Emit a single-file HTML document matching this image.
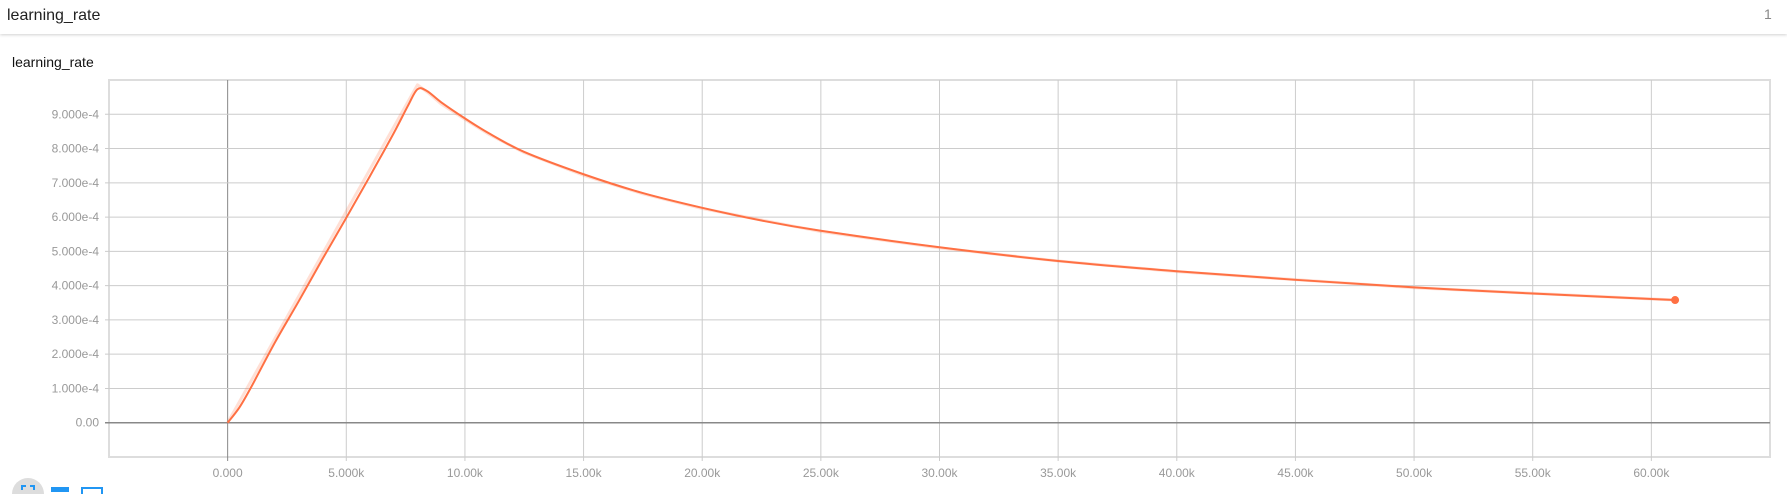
<!DOCTYPE html>
<html><head><meta charset="utf-8">
<style>
body{margin:0;width:1787px;height:494px;overflow:hidden;background:#fff;font-family:"Liberation Sans",sans-serif;}
#hdr{position:absolute;left:0;top:0;width:1787px;height:34px;background:#fff;box-shadow:0 1px 3px rgba(0,0,0,0.18);}
</style></head><body>
<div id="hdr">
<div style="position:absolute;left:7px;top:7px;font-size:16px;color:#222">learning_rate</div>
<div style="position:absolute;left:1764px;top:6px;font-size:14px;color:#888">1</div>
</div>
<svg id="chart" width="1787" height="494" style="position:absolute;left:0;top:0">
<text x="12" y="67" font-size="14" fill="#111" font-family="Liberation Sans">learning_rate</text>
<g id="grid"></g><g id="series"></g>
<g>
<circle cx="28" cy="494" r="16" fill="#ddd"/>
<path d="M22 490 v-4 h4 M30 486 h4 v4" stroke="#2196f3" stroke-width="2" fill="none"/>
<rect x="51" y="487" width="18" height="5" fill="#2196f3"/>
<rect x="82" y="488" width="20" height="10" fill="none" stroke="#2196f3" stroke-width="2"/>
</g>
</svg>
<script>
const xTicks=[0,5000,10000,15000,20000,25000,30000,35000,40000,45000,50000,55000,60000];
const xTickLabels=["0.000","5.000k","10.00k","15.00k","20.00k","25.00k","30.00k","35.00k","40.00k","45.00k","50.00k","55.00k","60.00k"];
const yTicks=[0,1e-4,2e-4,3e-4,4e-4,5e-4,6e-4,7e-4,8e-4,9e-4];
const yTickLabels=["0.00","1.000e-4","2.000e-4","3.000e-4","4.000e-4","5.000e-4","6.000e-4","7.000e-4","8.000e-4","9.000e-4"];
const steps=[0,500,1000,2000,3000,4000,5000,6000,7000,7600,8000,8400,9000,10000,11000,12500,15000,17500,20000,22500,25000,30000,35000,40000,45000,50000,55000,61000];
const smoothed=[0,0.45e-4,1.05e-4,2.35e-4,3.55e-4,4.78e-4,5.98e-4,7.2e-4,8.45e-4,9.25e-4,9.73e-4,9.68e-4,9.35e-4,8.88e-4,8.45e-4,7.9e-4,7.25e-4,6.7e-4,6.27e-4,5.9e-4,5.6e-4,5.12e-4,4.72e-4,4.42e-4,4.17e-4,3.95e-4,3.77e-4,3.58e-4];
const rawSteps=[0,8000,8500,9000,10000,11000,12500,15000,17500,20000,25000,30000,35000,40000,50000,61000];
const rawValues=[0,9.86e-4,9.6e-4,9.3e-4,8.85e-4,8.42e-4,7.88e-4,7.22e-4,6.68e-4,6.25e-4,5.58e-4,5.1e-4,4.72e-4,4.41e-4,3.94e-4,3.58e-4];
const L=109,R=1770,T=80,B=457,xMin=-5000,xMax=65000,yMin=-1e-4,yMax=1e-3;
const xs=v=>L+(v-xMin)/(xMax-xMin)*(R-L);
const ys=v=>B-(v-yMin)/(yMax-yMin)*(B-T);
const NS="http://www.w3.org/2000/svg";
const g=document.getElementById('grid'),s=document.getElementById('series');
function mk(tag,at,par){const e=document.createElementNS(NS,tag);for(const k in at)e.setAttribute(k,at[k]);par.appendChild(e);return e;}
function smoothPath(px,py){
 const p=px.map((v,i)=>[xs(v),ys(py[i])]);
 let d='M'+p[0][0]+','+p[0][1];
 for(let i=0;i<p.length-1;i++){
  const p0=p[Math.max(0,i-1)],p1=p[i],p2=p[i+1],p3=p[Math.min(p.length-1,i+2)];
  const c1x=p1[0]+(p2[0]-p0[0])/6,c1y=p1[1]+(p2[1]-p0[1])/6;
  const c2x=p2[0]-(p3[0]-p1[0])/6,c2y=p2[1]-(p3[1]-p1[1])/6;
  d+=' C'+c1x+','+c1y+' '+c2x+','+c2y+' '+p2[0]+','+p2[1];
 }
 return d;
}
let fr=mk('rect',{x:L,y:T,width:R-L,height:B-T,fill:'none',stroke:'#ddd','stroke-width':2},g);


xTicks.forEach((v,i)=>{
 const l=mk('line',{x1:xs(v),x2:xs(v),y1:T,y2:B+4,stroke:v===0?'#888':'#ccc','stroke-width':1},g);
 
 
 const t=mk('text',{x:xs(v),y:B+20,'text-anchor':'middle','font-size':12,fill:'#999','font-family':'Liberation Sans'},g);
 t.textContent=xTickLabels[i];
 
 
});
yTicks.forEach((v,i)=>{
 const l=mk('line',{x1:L-4,x2:R,y1:ys(v),y2:ys(v),stroke:v===0?'#888':'#ccc','stroke-width':v===0?1.5:1},g);
 
 
 const t=mk('text',{x:L-10,y:ys(v)+4,'text-anchor':'end','font-size':12,fill:'#999','font-family':'Liberation Sans'},g);
 t.textContent=yTickLabels[i];
 
 
});
const pr=mk('polyline',{points:rawSteps.map((v,i)=>xs(v)+','+ys(rawValues[i])).join(' '),fill:'none',stroke:'#ff7043','stroke-opacity':0.22,'stroke-width':3,'stroke-linejoin':'round'},s);


const ps=mk('path',{d:smoothPath(steps,smoothed),fill:'none',stroke:'#ff7043','stroke-width':2,'stroke-linejoin':'round'},s);


const n=steps.length-1;
const d=mk('circle',{cx:xs(steps[n]),cy:ys(smoothed[n]),r:4,fill:'#ff7043'},s);


</script>
</body></html>
